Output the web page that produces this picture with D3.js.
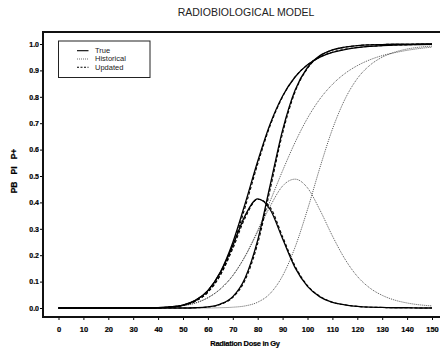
<!DOCTYPE html>
<html>
<head>
<meta charset="utf-8">
<script src="https://cdn.jsdelivr.net/npm/d3@7"></script>
<style>
  body { margin: 0; background: #fff; }
  svg { display: block; font-family: "Liberation Sans", Arial, sans-serif; }
  .tick text { font-weight: bold; fill: #000; stroke: #000; stroke-width: 0.2px; }
</style>
</head>
<body>
<svg id="chart" width="440" height="354"></svg>
<script>
// dose grid (Gy)
var doses = [0, 5, 10, 15, 20, 25, 30, 35, 40, 45, 50, 55, 60, 65, 70, 75, 80, 85, 90, 95, 100, 105, 110, 115, 120, 125, 130, 135, 140, 145, 150];

// True model
var trueBenefit = [0, 0, 0, 0, 0, 0, 0, 0, 0.001, 0.004, 0.011, 0.029, 0.066, 0.136, 0.248, 0.397, 0.556, 0.697, 0.803, 0.875, 0.921, 0.950, 0.968, 0.979, 0.986, 0.991, 0.994, 0.996, 0.997, 0.998, 0.999];
var trueInjury = [0, 0, 0, 0, 0, 0, 0, 0, 0, 0, 0, 0.001, 0.004, 0.015, 0.043, 0.115, 0.257, 0.465, 0.674, 0.825, 0.911, 0.956, 0.978, 0.988, 0.994, 0.997, 0.998, 0.999, 0.999, 1.0, 1.0];
var truePlus = [0, 0, 0, 0, 0, 0, 0, 0, 0.001, 0.004, 0.011, 0.029, 0.066, 0.134, 0.237, 0.351, 0.413, 0.373, 0.262, 0.153, 0.082, 0.042, 0.021, 0.012, 0.006, 0.003, 0.002, 0.001, 0.001, 0, 0];

// Historical model
var histBenefit = [0, 0, 0, 0, 0, 0, 0, 0.001, 0.002, 0.004, 0.009, 0.019, 0.039, 0.072, 0.123, 0.198, 0.294, 0.405, 0.520, 0.627, 0.719, 0.792, 0.847, 0.888, 0.918, 0.940, 0.956, 0.967, 0.976, 0.983, 0.988];
var histInjury = [0, 0, 0, 0, 0, 0, 0, 0, 0, 0, 0, 0, 0, 0.001, 0.003, 0.008, 0.022, 0.055, 0.122, 0.230, 0.373, 0.532, 0.677, 0.790, 0.869, 0.919, 0.950, 0.969, 0.981, 0.988, 0.992];
var histPlus = [0, 0, 0, 0, 0, 0, 0, 0.001, 0.002, 0.004, 0.009, 0.019, 0.039, 0.072, 0.123, 0.196, 0.289, 0.385, 0.462, 0.488, 0.455, 0.371, 0.273, 0.186, 0.120, 0.076, 0.048, 0.030, 0.019, 0.012, 0.008];

// Updated model
var updBenefit = [0, 0, 0, 0, 0, 0, 0, 0, 0.001, 0.004, 0.010, 0.026, 0.060, 0.126, 0.235, 0.383, 0.545, 0.691, 0.800, 0.875, 0.921, 0.951, 0.969, 0.980, 0.987, 0.991, 0.994, 0.996, 0.997, 0.998, 0.999];
var updInjury = [0, 0, 0, 0, 0, 0, 0, 0, 0, 0, 0, 0.001, 0.004, 0.013, 0.040, 0.107, 0.244, 0.449, 0.662, 0.818, 0.908, 0.954, 0.977, 0.988, 0.994, 0.997, 0.998, 0.999, 0.999, 1.0, 1.0];
var updPlus = [0, 0, 0, 0, 0, 0, 0, 0, 0.001, 0.004, 0.010, 0.026, 0.060, 0.124, 0.225, 0.342, 0.412, 0.381, 0.270, 0.159, 0.085, 0.044, 0.022, 0.012, 0.006, 0.003, 0.002, 0.001, 0.001, 0, 0];

var xTicks = [0, 10, 20, 30, 40, 50, 60, 70, 80, 90, 100, 110, 120, 130, 140, 150];
var yTicks = [0, 0.1, 0.2, 0.3, 0.4, 0.5, 0.6, 0.7, 0.8, 0.9, 1.0];
var legendLabels = ["True", "Historical", "Updated"];

var svg = d3.select("#chart");

// plot frame edges
var frame = { left: 43, top: 32, bottom: 317, right: 442 };

var x = d3.scaleLinear().domain([0, 150]).range([58.5, 432]);
var y = d3.scaleLinear().domain([0, 1]).range([308, 44]);

// title
svg.append("text")
  .attr("x", 246)
  .attr("y", 16)
  .attr("text-anchor", "middle")
  .style("font-size", "10.5px")
  .style("fill", "#222")
  .text("RADIOBIOLOGICAL MODEL");

// y-axis
var yAxis = svg.append("g")
  .attr("transform", "translate(" + frame.left + ",0)")
  .call(d3.axisLeft(y).tickValues(yTicks).tickFormat(d3.format(".1f")).tickSize(3).tickPadding(1));
yAxis.select(".domain").remove();
yAxis.selectAll("text").style("font-size", "7px");
yAxis.selectAll("line").attr("stroke", "#000");

// x-axis
var xAxis = svg.append("g")
  .attr("transform", "translate(0," + frame.bottom + ")")
  .call(d3.axisBottom(x).tickValues(xTicks).tickSize(3).tickPadding(7));
xAxis.select(".domain").remove();
xAxis.selectAll("text").style("font-size", "7.5px");
xAxis.selectAll("line").attr("stroke", "#000");

// frame lines
svg.append("path")
  .attr("d", "M" + frame.right + "," + frame.top + "H" + frame.left + "V" + frame.bottom + "H" + frame.right)
  .attr("fill", "none")
  .attr("stroke", "#111")
  .attr("stroke-width", 2);

// axis titles
svg.append("text")
  .attr("x", 245)
  .attr("y", 346)
  .attr("text-anchor", "middle")
  .style("font-size", "7.5px")
  .style("font-weight", "bold")
  .style("stroke", "#000")
  .style("stroke-width", "0.2px")
  .style("letter-spacing", "-0.3px")
  .text("Radiation Dose in Gy");

svg.append("text")
  .attr("transform", "translate(17,171) rotate(-90)")
  .attr("text-anchor", "middle")
  .style("font-size", "8.5px")
  .style("font-weight", "bold")
  .style("stroke", "#000")
  .style("stroke-width", "0.2px")
  .style("white-space", "pre")
  .text("PB   PI   P+");

// curves
var line = d3.line()
  .x(function (d) { return x(d[0]); })
  .y(function (d) { return y(d[1]); })
  .curve(d3.curveMonotoneX);

function pairs(vals) {
  return doses.map(function (d, i) { return [d, vals[i]]; });
}

var styles = {
  hist: { stroke: "#444", width: 0.9, dash: "1,1" },
  true: { stroke: "#000", width: 1.3, dash: null },
  upd: { stroke: "#000", width: 1.1, dash: "3,2" }
};

var series = [
  { key: "hist", vals: histBenefit },
  { key: "hist", vals: histInjury },
  { key: "hist", vals: histPlus },
  { key: "true", vals: trueBenefit },
  { key: "true", vals: trueInjury },
  { key: "true", vals: truePlus },
  { key: "upd", vals: updBenefit },
  { key: "upd", vals: updInjury },
  { key: "upd", vals: updPlus }
];

svg.append("g").selectAll("path")
  .data(series)
  .enter().append("path")
  .attr("d", function (s) { return line(pairs(s.vals)); })
  .attr("fill", "none")
  .attr("stroke", function (s) { return styles[s.key].stroke; })
  .attr("stroke-width", function (s) { return styles[s.key].width; })
  .attr("stroke-dasharray", function (s) { return styles[s.key].dash; });

// legend
var legend = svg.append("g").attr("transform", "translate(58.5,41)");
legend.append("rect")
  .attr("width", 91.5)
  .attr("height", 36.5)
  .attr("fill", "#fff")
  .attr("stroke", "#222")
  .attr("stroke-width", 1);

var legendKeys = ["true", "hist", "upd"];
var item = legend.selectAll(".item")
  .data(legendLabels)
  .enter().append("g")
  .attr("class", "item")
  .attr("transform", function (d, i) { return "translate(0," + (9.7 + i * 8.3) + ")"; });

item.append("line")
  .attr("x1", 18.5).attr("x2", 30)
  .attr("stroke", function (d, i) { return styles[legendKeys[i]].stroke; })
  .attr("stroke-width", function (d, i) { return legendKeys[i] == "hist" ? 0.8 : 1.1; })
  .attr("stroke-dasharray", function (d, i) { return legendKeys[i] == "upd" ? "2,1.5" : styles[legendKeys[i]].dash; });

item.append("text")
  .attr("x", 36.5)
  .attr("dy", "0.32em")
  .style("font-size", "7.5px")
  .style("fill", "#222")
  .text(function (d) { return d; });
</script>
</body>
</html>
